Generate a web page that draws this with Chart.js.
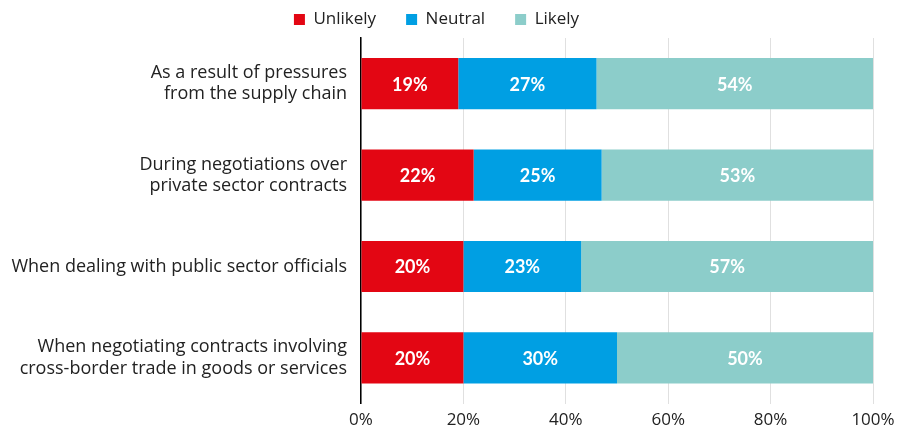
<!DOCTYPE html>
<html><head><meta charset="utf-8">
<script src="https://cdn.jsdelivr.net/npm/chart.js@4.4.1/dist/chart.umd.min.js"></script>
<style>html,body{margin:0;padding:0;background:#fff}#wrap{width:911px;height:433px}</style>
</head><body><div id="wrap"><canvas id="c"></canvas></div>
<script>
const categories = [
  ["As a result of pressures", "from the supply chain"],
  ["During negotiations over", "private sector contracts"],
  "When dealing with public sector officials",
  ["When negotiating contracts involving", "cross-border trade in goods or services"]
];
const unlikely = [19, 22, 20, 20];
const neutral = [27, 25, 23, 30];
const likely = [54, 53, 57, 50];
const seriesNames = ["Unlikely", "Neutral", "Likely"];
const colors = ["#e30613", "#009fe3", "#8ccdca"];

const FONT = "'Open Sans', Lato, sans-serif";

const labelPlugin = {
  id: 'barLabels',
  afterDatasetsDraw(chart) {
    const ctx = chart.ctx;
    ctx.save();
    ctx.font = "bold 18px Lato, 'Open Sans', sans-serif";
    ctx.fillStyle = "#ffffff";
    ctx.textAlign = "center";
    ctx.textBaseline = "middle";
    chart.data.datasets.forEach((ds, i) => {
      const meta = chart.getDatasetMeta(i);
      meta.data.forEach((bar, j) => {
        const x = (bar.x + bar.base) / 2;
        ctx.fillText(ds.data[j] + "%", x, bar.y + 1);
      });
    });
    ctx.restore();
  }
};

new Chart(document.getElementById('c'), {
  type: 'bar',
  data: {
    labels: categories,
    datasets: [
      { label: seriesNames[0], data: unlikely, backgroundColor: colors[0] },
      { label: seriesNames[1], data: neutral, backgroundColor: colors[1] },
      { label: seriesNames[2], data: likely, backgroundColor: colors[2] }
    ]
  },
  options: {
    indexAxis: 'y',
    responsive: true,
    maintainAspectRatio: false,
    animation: false,
    datasets: { bar: { barPercentage: 0.56, categoryPercentage: 1.0 } },
    layout: { padding: { left: 0, right: 38, top: -19, bottom: -3 } },
    plugins: {
      legend: {
        position: 'top',
        maxHeight: 57,
        labels: {
          font: { family: FONT, size: 17 },
          color: '#222',
          boxWidth: 11, boxHeight: 11,
          padding: 30
        }
      },
      tooltip: { enabled: false }
    },
    scales: {
      x: {
        stacked: true,
        min: 0, max: 100,
        ticks: {
          stepSize: 20,
          callback: v => v + '%',
          font: { family: FONT, size: 17 },
          color: '#222',
          padding: 6
        },
        grid: { color: '#e0e0e0', drawTicks: false },
        border: { display: false }
      },
      y: {
        stacked: true,
        ticks: {
          font: { family: FONT, size: 18, lineHeight: 1.17 },
          color: '#222',
          padding: 14,
          crossAlign: 'near'
        },
        grid: { display: false, drawTicks: false },
        border: { display: true, color: '#000', width: 1.5 },
        afterFit(scale) {
          scale.width = 361;
          scale.paddingTop = 0;
          scale.paddingBottom = 0;
        }
      }
    }
  },
  plugins: [labelPlugin]
});
</script>
</body></html>
